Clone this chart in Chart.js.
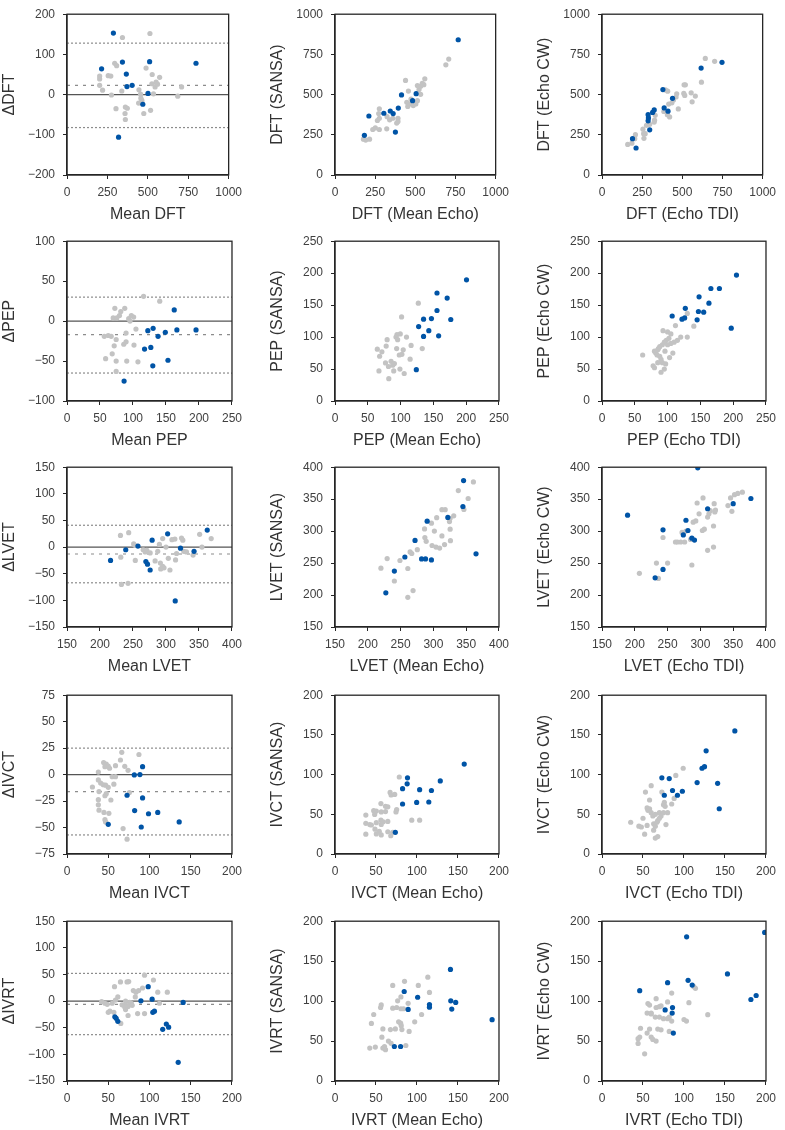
<!DOCTYPE html>
<html><head><meta charset="utf-8">
<script src="https://cdn.jsdelivr.net/npm/chart.js@4.4.0/dist/chart.umd.min.js"></script>
<style>
html,body{margin:0;padding:0;background:#fff;}
body{width:785px;height:1130px;position:relative;overflow:hidden;}
canvas{position:absolute;}
</style></head><body>
<script>
// ---------- axis ranges [min, max, step] ----------
const DFT_RANGE = [0, 1000, 250];
const DFT_DIFF_RANGE = [-200, 200, 100];
const PEP_RANGE = [0, 250, 50];
const PEP_DIFF_RANGE = [-100, 100, 50];
const LVET_RANGE = [150, 400, 50];
const LVET_DIFF_RANGE = [-150, 150, 50];
const IVCT_RANGE = [0, 200, 50];
const IVCT_DIFF_RANGE = [-75, 75, 25];
const IVRT_RANGE = [0, 200, 50];
const IVRT_DIFF_RANGE = [-150, 150, 50];

// ---------- Bland-Altman reference lines [upper LoA, mean bias, lower LoA] ----------
const DFT_LOA = [128, 23, -82];
const PEP_LOA = [30, -17, -65];
const LVET_LOA = [41, -13, -67];
const IVCT_LOA = [25, -16, -57];
const IVRT_LOA = [52, -6, -63];

// ---------- DFT ----------
const DFT_BA_GRAY = [[343,142],[513,152],[295,78],[307,72],[489,66],[202,46],[255,47],[271,46],[527,50],[573,43],[551,31],[525,27],[545,19],[202,39],[202,23],[220,11],[275,-1],[339,9],[445,12],[455,1],[457,-9],[465,-21],[443,-21],[709,19],[685,-4],[303,-35],[361,-31],[373,-34],[359,-47],[361,-62],[475,-47],[517,-39],[535,2],[463,-14],[560,26]];
const DFT_BA_BLUE = [[287,153],[214,64],[343,81],[367,51],[371,20],[403,23],[511,82],[501,3],[469,-24],[319,-106],[798,78]];
const DFT_SANSA_GRAY = [[177,223],[191,217],[215,223],[235,283],[251,293],[264,339],[276,353],[272,382],[276,412],[276,283],[322,287],[340,343],[360,353],[324,363],[392,353],[392,333],[384,323],[439,588],[457,522],[447,452],[463,442],[473,472],[453,426],[513,462],[533,502],[523,532],[533,552],[553,562],[559,598],[543,570],[513,556],[690,685],[708,721],[503,442],[487,432]];
const DFT_SANSA_BLUE = [[183,247],[211,367],[304,384],[344,398],[362,382],[376,267],[394,416],[414,498],[483,462],[505,506],[767,841]];
const DFT_CW_GRAY = [[160,190],[186,198],[208,251],[204,226],[255,285],[259,257],[261,228],[269,257],[277,309],[297,315],[327,341],[331,371],[325,329],[385,395],[407,375],[395,529],[409,521],[421,361],[415,441],[435,449],[445,467],[465,505],[475,411],[461,485],[509,507],[519,561],[511,561],[515,495],[555,511],[561,455],[581,491],[619,577],[643,725],[701,707]];
const DFT_CW_BLUE = [[190,226],[212,168],[297,281],[287,337],[289,355],[287,375],[315,389],[325,405],[379,531],[387,417],[411,397],[439,477],[617,665],[747,701]];

// ---------- PEP ----------
const PEP_BA_GRAY = [[116,31],[140.5,25],[72.5,16],[87.5,16],[79.5,7],[81.5,12],[70,4],[75.5,4],[97.5,7],[101,5],[93.5,3],[95.5,0],[104.5,-10],[56.5,-19],[67,-19],[74.5,-23],[62.5,-18],[89.5,-15],[71.5,-31],[86,-29],[89.5,-26],[101.5,-30],[68.5,-41],[58.5,-47],[74.5,-50],[90.5,-50],[107.5,-51],[74.5,-63]];
const PEP_BA_BLUE = [[162.5,14],[122.5,-12],[130.5,-9],[138,-19],[149,-14],[166.5,-11],[195.5,-11],[117.5,-35],[127,-33],[130,-56],[153,-49],[86.5,-75]];
const PEP_SANSA_GRAY = [[127,153],[101.5,131.5],[133,82],[94.5,104],[99.5,105],[93,100],[95.5,96],[109,100],[79.5,96],[78,86],[94,82],[64.5,81],[71.5,77],[68,70],[104,80],[102,73],[98,72],[116,87],[114.5,65.5],[77,59.5],[85.5,62],[90.5,58.5],[81.5,54],[89.5,47],[67,47],[82,35],[99,50],[105.5,43],[88,56]];
const PEP_SANSA_BLUE = [[200.5,189.5],[155.5,169],[171,161],[155.5,141.6],[176.5,127.5],[147,129],[135,128],[127.5,116.4],[143,110],[135,101],[158,102],[124,49]];
const PEP_CW_GRAY = [[62,72],[80,78],[82,75],[85,80],[84,72],[88,70],[90,65],[92,60],[78,55],[80,52],[90,45],[95,50],[97,58],[103,68],[88,85],[92,88],[95,92],[98,95],[100,88],[93,110],[100,108],[105,105],[102,98],[110,92],[115,95],[112,118],[120,100],[130,100],[140,117],[130,137],[85,60],[86,82],[96,78],[105,90],[108,75]];
const PEP_CW_BLUE = [[107,133],[122,128],[126,130],[127,145],[145,127],[147,140],[155,139],[148,163],[163,153],[166,176],[179,176],[205,197],[197,114]];

// ---------- LVET ----------
const LVET_BA_GRAY = [[231,22],[243.5,27],[231.5,-19],[253.5,-25],[251,6],[253.5,3],[265.5,-5],[268.5,-9],[271,-6],[276,-11],[287.5,-8],[290,5],[295,16],[300,0],[283.5,-26],[291.5,-30],[295,-36],[297,-39],[292,-41],[306,-43],[303.5,-21],[314.5,-24],[309,14],[313.5,15],[323.5,17],[325.5,13],[327,-8],[331,-9],[316,-12],[341,-15],[351,24],[354.5,0],[368.5,16],[232.5,-70],[242.5,-68]];
const LVET_BA_BLUE = [[216,-25],[239,-5],[257.5,2],[279,13],[302.5,25],[362.5,32],[322,-2],[342.5,-8],[269.5,-27],[272,-32],[276,-43],[314,-101]];
const LVET_SANSA_GRAY = [[220,242],[229.5,257],[240.5,222],[249,254],[261,241.5],[261,196.5],[269,207],[264.5,267.5],[267,265],[275.5,271],[287,290],[289,284],[286.5,303.5],[297,312.5],[305,321],[301.5,300],[298,277.5],[304,275],[309.5,273.5],[313,292.5],[317,279],[313,333.5],[318,333.5],[324.5,315],[325.5,303],[326,285],[331,324],[338,363.5],[353,351],[346.5,334],[361,377],[325.5,320]];
const LVET_SANSA_BLUE = [[227.5,203.5],[240.5,237.5],[256.5,259.5],[272,285.5],[290.5,315.5],[282,256.5],[288,256.5],[297,255],[322,321.5],[345,338.5],[346,379],[365,264.5]];
const LVET_CW_GRAY = [[207,234],[233,250],[236,226],[250,250],[243,290],[287,247],[262,283],[265,283],[270,283],[276,283],[272,298],[278,300],[285,287],[289,314],[293,316],[295,344],[298,327],[303,301],[306,303],[304,352],[311,322],[313,327],[315,332],[311,270],[320,308],[320,275],[321,343],[323,333],[322,330],[342,340],[346,352],[348,331],[352,357],[357,359],[364,361]];
const LVET_CW_BLUE = [[189,325],[243,302],[243,240],[231,227],[274,294],[278,317],[281,301],[287,289],[291,286],[296,399],[311,335],[350,343],[377,351]];

// ---------- IVCT ----------
const IVCT_BA_GRAY = [[66.4,21],[87.2,19],[64.8,13.8],[70,7.8],[74,4],[44.4,11.4],[47.6,10],[50,8],[46,7.5],[51.6,6],[58.8,8.4],[38,2.4],[30.8,-11.7],[38,-5],[40.8,-8],[44,-9.6],[46.8,-10],[50,-12],[54.8,-2],[58.8,-2],[56.8,-9],[38.8,-16],[47.6,-18],[46,-20],[53.2,-24],[38,-23.7],[38,-28.5],[38.8,-33.6],[44.8,-35.7],[50.8,-36.6],[46,-42.6],[46.8,-44.7],[68,-51],[72.8,-61],[75.6,-17]];
const IVCT_BA_BLUE = [[91.6,7.5],[81.6,-0.3],[88.4,0],[72.8,-19.5],[91.6,-22],[82,-34],[98.8,-37],[110,-35.7],[50,-47],[90,-49.5],[136,-44.7]];
const IVCT_SANSA_GRAY = [[78.4,97],[67.2,77.5],[68.4,74.3],[72.8,75],[56,63.5],[61.6,60],[50.4,54],[47.2,54.6],[56.4,53],[48.4,49.8],[37.6,49],[61.6,53.4],[64.4,59.4],[75.2,56],[74.4,53],[37.6,38.6],[42.4,37],[50.4,39.4],[56,42.6],[56.4,37.3],[58.8,40.6],[64.4,41],[48.8,31.3],[54,28.5],[56.4,24],[50.4,25.3],[37.6,25],[64.4,28],[68,23],[70.4,27.3],[93.6,42.6],[103.2,42.6],[44.4,36.5]];
const IVCT_SANSA_BLUE = [[157.6,113.3],[88.4,96],[88,88.4],[82.4,82.3],[82.4,63],[103.2,81],[117.6,80],[128.4,92],[99.6,65],[114.4,65.5],[73.6,27.3]];
const IVCT_CW_GRAY = [[35,40],[45,35],[48,34],[52,25],[50,45],[53,78],[55,58],[56,55],[58,57],[60,52],[58,68],[60,86],[62,48],[63,38],[65,35],[63,30],[65,20],[68,22],[68,42],[70,45],[70,52],[72,48],[75,52],[73,78],[77,60],[75,62],[76,65],[78,37],[80,52],[85,63],[88,70],[90,99],[99,108],[65,50],[67,40],[55,36]];
const IVCT_CW_BLUE = [[73,96],[82,95],[76,74],[86,80],[92,74],[98,79],[116,90],[122,108],[125,110],[127,130],[141,89],[143,57],[162,155]];

// ---------- IVRT ----------
const IVRT_BA_GRAY = [[94,48.6],[104.8,39.6],[57.6,27],[64.8,36],[72.8,36],[74.8,36.6],[80.4,19.8],[83.6,16.8],[86.8,19.8],[91.6,24.6],[110,16.8],[121.6,16.8],[61.6,7.8],[71,0],[82.8,7.8],[42,-1],[46,-4],[48.8,-6],[54.8,-4],[66.8,-7],[70.8,-7],[74,-10],[70,-11],[76,-2.4],[78,-4],[79,-8],[52,-19],[50,-21],[56.8,-21],[71,-16],[74,-27],[85.6,-23.4],[94,-23.4],[65.2,-42],[112,-4],[58.8,2]];
const IVRT_BA_BLUE = [[98.4,27],[89.6,0.6],[103.2,3.6],[140.8,-2.4],[104,-21],[106,-19],[58,-29.4],[59.6,-32.4],[61.6,-38],[120.4,-43],[123.2,-49],[116,-53],[134.8,-115]];
const IVRT_SANSA_GRAY = [[70.4,119.6],[84.8,124.8],[101.6,119.6],[113.2,130],[115.2,110.8],[80.4,105.2],[89.2,97.2],[76.4,100.4],[56.4,95.2],[55.6,92],[47.2,83.2],[44.4,72],[70.4,91.2],[75.2,92],[80.4,90.4],[83.6,90.4],[77.6,74],[80,72.4],[80.8,69.2],[97.2,74],[105.6,83.2],[58.4,65.2],[67.6,64.4],[73.6,65.2],[81.6,64.4],[90.4,62],[57.2,54.8],[65.2,50],[68.4,47.2],[60.4,43.2],[58.4,41.2],[61.6,39.2],[42.4,41.2],[49.2,42.4],[86.4,44.4]];
const IVRT_SANSA_BLUE = [[140.8,139.6],[84.4,112],[100.8,104.8],[89.2,89.6],[115.2,95.6],[115.2,92.4],[141.2,100.4],[147.2,98.4],[142.4,90],[191.6,76.8],[72.4,43.2],[80,43.2]];
const IVRT_CW_GRAY = [[44,53],[46,55],[44,47],[52,34],[47,66],[55,60],[58,65],[60,55],[62,52],[66,50],[55,85],[56,97],[58,95],[60,85],[66,92],[66,103],[70,93],[70,80],[68,65],[72,64],[75,78],[80,78],[82,80],[85,75],[85,110],[80,99],[82,62],[100,77],[103,75],[106,98],[114,116],[112,118],[129,83],[72,94],[60,84],[65,80]];
const IVRT_CW_BLUE = [[198.4,186],[103.2,180.4],[153,134],[105,126],[110,120],[80,123],[46,113],[77,89],[86,92],[85.6,85],[87,60],[181.6,102],[188,107]];

// ---------- panel list ----------
const PANELS = [
  {r:0,c:0,xr:DFT_RANGE,yr:DFT_DIFF_RANGE,xt:'Mean DFT',yt:'\u0394DFT',g:DFT_BA_GRAY,b:DFT_BA_BLUE,loa:DFT_LOA},
  {r:0,c:1,xr:DFT_RANGE,yr:DFT_RANGE,xt:'DFT (Mean Echo)',yt:'DFT (SANSA)',g:DFT_SANSA_GRAY,b:DFT_SANSA_BLUE},
  {r:0,c:2,xr:DFT_RANGE,yr:DFT_RANGE,xt:'DFT (Echo TDI)',yt:'DFT (Echo CW)',g:DFT_CW_GRAY,b:DFT_CW_BLUE},
  {r:1,c:0,xr:PEP_RANGE,yr:PEP_DIFF_RANGE,xt:'Mean PEP',yt:'\u0394PEP',g:PEP_BA_GRAY,b:PEP_BA_BLUE,loa:PEP_LOA},
  {r:1,c:1,xr:PEP_RANGE,yr:PEP_RANGE,xt:'PEP (Mean Echo)',yt:'PEP (SANSA)',g:PEP_SANSA_GRAY,b:PEP_SANSA_BLUE},
  {r:1,c:2,xr:PEP_RANGE,yr:PEP_RANGE,xt:'PEP (Echo TDI)',yt:'PEP (Echo CW)',g:PEP_CW_GRAY,b:PEP_CW_BLUE},
  {r:2,c:0,xr:LVET_RANGE,yr:LVET_DIFF_RANGE,xt:'Mean LVET',yt:'\u0394LVET',g:LVET_BA_GRAY,b:LVET_BA_BLUE,loa:LVET_LOA},
  {r:2,c:1,xr:LVET_RANGE,yr:LVET_RANGE,xt:'LVET (Mean Echo)',yt:'LVET (SANSA)',g:LVET_SANSA_GRAY,b:LVET_SANSA_BLUE},
  {r:2,c:2,xr:LVET_RANGE,yr:LVET_RANGE,xt:'LVET (Echo TDI)',yt:'LVET (Echo CW)',g:LVET_CW_GRAY,b:LVET_CW_BLUE},
  {r:3,c:0,xr:IVCT_RANGE,yr:IVCT_DIFF_RANGE,xt:'Mean IVCT',yt:'\u0394IVCT',g:IVCT_BA_GRAY,b:IVCT_BA_BLUE,loa:IVCT_LOA},
  {r:3,c:1,xr:IVCT_RANGE,yr:IVCT_RANGE,xt:'IVCT (Mean Echo)',yt:'IVCT (SANSA)',g:IVCT_SANSA_GRAY,b:IVCT_SANSA_BLUE},
  {r:3,c:2,xr:IVCT_RANGE,yr:IVCT_RANGE,xt:'IVCT (Echo TDI)',yt:'IVCT (Echo CW)',g:IVCT_CW_GRAY,b:IVCT_CW_BLUE},
  {r:4,c:0,xr:IVRT_RANGE,yr:IVRT_DIFF_RANGE,xt:'Mean IVRT',yt:'\u0394IVRT',g:IVRT_BA_GRAY,b:IVRT_BA_BLUE,loa:IVRT_LOA},
  {r:4,c:1,xr:IVRT_RANGE,yr:IVRT_RANGE,xt:'IVRT (Mean Echo)',yt:'IVRT (SANSA)',g:IVRT_SANSA_GRAY,b:IVRT_SANSA_BLUE},
  {r:4,c:2,xr:IVRT_RANGE,yr:IVRT_RANGE,xt:'IVRT (Echo TDI)',yt:'IVRT (Echo CW)',g:IVRT_CW_GRAY,b:IVRT_CW_BLUE}
];

// ---------- layout / style ----------
const COL_L = [67, 335, 602], COL_R = [234, 501, 768];
const ROW_T = [7, 234, 460, 688, 914], ROW_B = [175, 401, 627, 854, 1081];
const YW = 67, PT = 8, PR = 14, XH = 49;
const FONT = '"Liberation Sans", Arial, Helvetica, sans-serif';
const AX = '#262626', TICKC = '#404040', TITLEC = '#333333';
const GRAY = '#c3c3c3', BLUE = '#0054a6', REFC = '#8c8c8c';

const fmt = v => (v < 0 ? '\u2212' + Math.abs(v) : String(v));
const toPts = arr => arr.map(p => ({x: p[0], y: p[1]}));

const boxPlugin = {
  id: 'box',
  afterDatasetsDraw(chart) {
    const {ctx, chartArea: a} = chart;
    ctx.save();
    ctx.strokeStyle = AX; ctx.lineWidth = 1.3;
    ctx.strokeRect(a.left, a.top, a.right - a.left, a.bottom - a.top);
    ctx.restore();
  }
};

function axis(range, title, isX) {
  return {
    type: 'linear', min: range[0], max: range[1],
    ticks: {stepSize: range[2], color: TICKC, font: {family: FONT, size: 12}, padding: isX ? 6 : 8,
            callback: fmt, maxRotation: 0, autoSkip: false},
    grid: {drawOnChartArea: false, drawTicks: true, tickLength: 4, color: AX, lineWidth: 1},
    border: {display: true, color: AX, width: 1.3},
    title: {display: true, text: title, color: TITLEC, font: {family: FONT, size: 16}, padding: {top: 0, bottom: 0}},
    afterFit: s => { if (isX) s.height = XH; else s.width = YW; }
  };
}

function refLine(v, xr, dash, color, width) {
  return {type: 'line', data: [{x: xr[0], y: v}, {x: xr[1], y: v}], borderColor: color, borderWidth: width,
          borderDash: dash, pointRadius: 0, fill: false, order: 3, clip: 0};
}

PANELS.forEach(p => {
  const left = COL_L[p.c] - YW, top = ROW_T[p.r] - PT;
  const w = YW + (COL_R[p.c] - COL_L[p.c]) + PR;
  const h = PT + (ROW_B[p.r] - ROW_T[p.r]) + XH;
  const cv = document.createElement('canvas');
  cv.width = w; cv.height = h;
  cv.style.left = left + 'px'; cv.style.top = top + 'px';
  cv.style.width = w + 'px'; cv.style.height = h + 'px';
  document.body.appendChild(cv);

  const ds = [];
  if (p.loa) {
    ds.push(refLine(0, p.xr, [], '#555555', 1.1));
    ds.push(refLine(p.loa[0], p.xr, [2, 2], REFC, 1.2));
    ds.push(refLine(p.loa[1], p.xr, [3, 5], REFC, 1.2));
    ds.push(refLine(p.loa[2], p.xr, [2, 2], REFC, 1.2));
  }
  ds.push({type: 'scatter', data: toPts(p.g), backgroundColor: GRAY, borderWidth: 0, pointRadius: 2.6, order: 2});
  ds.push({type: 'scatter', data: toPts(p.b), backgroundColor: BLUE, borderWidth: 0, pointRadius: 2.6, order: 1});

  new Chart(cv, {
    type: 'scatter',
    data: {datasets: ds},
    options: {
      responsive: false, animation: false, devicePixelRatio: 1,
      layout: {padding: {top: PT, right: PR, left: 0, bottom: 0}},
      plugins: {legend: {display: false}, tooltip: {enabled: false}},
      scales: {x: axis(p.xr, p.xt, true), y: axis(p.yr, p.yt, false)}
    },
    plugins: [boxPlugin]
  });
});
</script>
</body></html>
